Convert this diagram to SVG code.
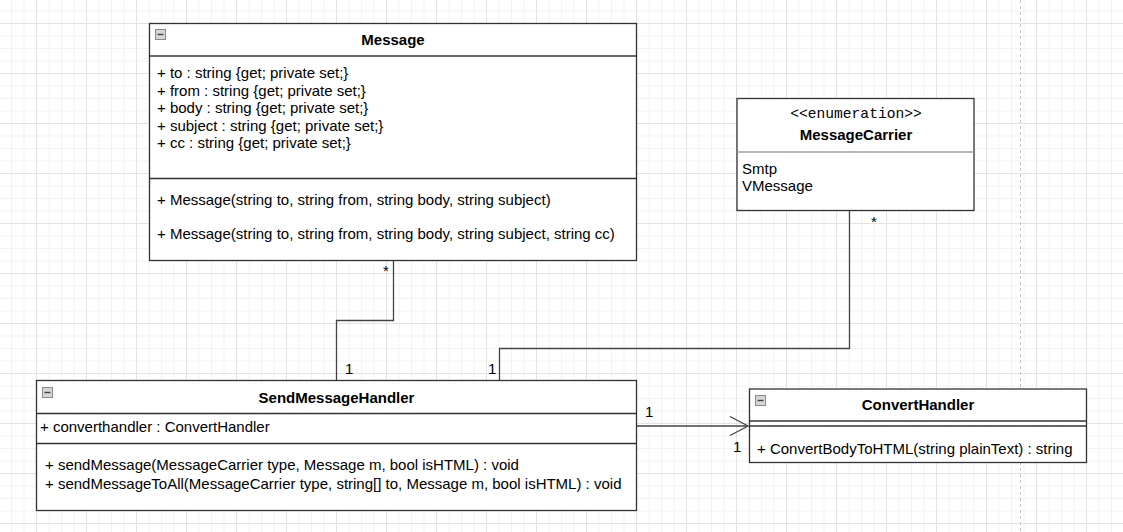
<svg xmlns="http://www.w3.org/2000/svg" width="1123" height="532" viewBox="0 0 1123 532">
<style>
.t{font-family:"Liberation Sans",Arial,sans-serif;font-size:15px;fill:#000}
.b{font-weight:bold;text-anchor:middle}
.m{font-family:"Liberation Mono","Courier New",monospace;font-size:14.6px;fill:#000;text-anchor:middle}
.box{fill:#fff;stroke:#333;stroke-width:1.3}
.sep{stroke:#333;stroke-width:1.3;fill:none}
.con{stroke:#444;stroke-width:1.3;fill:none}
.ic{fill:#d6d6d6;stroke:#8a8a8a;stroke-width:1}
.icm{stroke:#444;stroke-width:1.4}
</style>
<defs>
<pattern id="grid" patternUnits="userSpaceOnUse" x="36" y="23" width="50" height="50">
<path d="M0 13H50M0 25.5H50M0 38H50M13 0V50M25.5 0V50M38 0V50" stroke="#f3f3f3" stroke-width="1" fill="none"/>
<path d="M0 0.5H50M0.5 0V50" stroke="#e3e3e3" stroke-width="1" fill="none"/>
</pattern>
</defs>
<rect width="1123" height="532" fill="#fff"/>
<rect width="1123" height="532" fill="url(#grid)"/>
<line x1="1020.5" y1="0" x2="1020.5" y2="532" stroke="#c4c4c4" stroke-width="1" stroke-dasharray="3,3"/>

<g id="connectors">
<polyline class="con" points="393.5,261 393.5,320.5 336.5,320.5 336.5,380.5"/>
<polyline class="con" points="849.5,210.5 849.5,348.5 499.5,348.5 499.5,380.5"/>
<line class="con" x1="636.5" y1="426" x2="748" y2="426"/>
<polyline class="con" points="730,416.5 748,426 730,435.5"/>
<text class="t" x="383" y="276">*</text>
<text class="t" x="345" y="374">1</text>
<text class="t" x="488" y="374">1</text>
<text class="t" x="871" y="227">*</text>
<text class="t" x="645" y="417">1</text>
<text class="t" x="733" y="452">1</text>
</g>

<g id="Message">
<rect class="box" x="149.5" y="23.5" width="487" height="237"/>
<line class="sep" x1="149.5" y1="56" x2="636.5" y2="56"/>
<line class="sep" x1="149.5" y1="178.5" x2="636.5" y2="178.5"/>
<rect class="ic" x="155.5" y="29.5" width="10" height="10"/>
<line class="icm" x1="157.5" y1="34.5" x2="163.5" y2="34.5"/>
<text class="t b" x="393" y="45">Message</text>
<text class="t" x="157" y="78">+ to : string {get; private set;}</text>
<text class="t" x="157" y="95.5">+ from : string {get; private set;}</text>
<text class="t" x="157" y="113">+ body : string {get; private set;}</text>
<text class="t" x="157" y="130.5">+ subject : string {get; private set;}</text>
<text class="t" x="157" y="148">+ cc : string {get; private set;}</text>
<text class="t" x="157" y="205">+ Message(string to, string from, string body, string subject)</text>
<text class="t" x="157" y="239">+ Message(string to, string from, string body, string subject, string cc)</text>
</g>

<g id="MessageCarrier">
<rect class="box" x="737" y="98.5" width="237" height="112"/>
<line x1="737" y1="152" x2="974" y2="152" stroke="#a0a0a0" stroke-width="1.3"/>
<text class="m" x="856" y="117.5">&lt;&lt;enumeration&gt;&gt;</text>
<text class="t b" x="856" y="139.5">MessageCarrier</text>
<text class="t" x="742" y="173.5">Smtp</text>
<text class="t" x="742" y="191">VMessage</text>
</g>

<g id="SendMessageHandler">
<rect class="box" x="36.5" y="380.5" width="600" height="130"/>
<line class="sep" x1="36.5" y1="413.5" x2="636.5" y2="413.5"/>
<line class="sep" x1="36.5" y1="443.5" x2="636.5" y2="443.5"/>
<rect class="ic" x="42.5" y="387.5" width="10" height="10"/>
<line class="icm" x1="44.5" y1="392.5" x2="50.5" y2="392.5"/>
<text class="t b" x="336.5" y="403">SendMessageHandler</text>
<text class="t" x="40" y="432">+ converthandler : ConvertHandler</text>
<text class="t" x="45" y="470">+ sendMessage(MessageCarrier type, Message m, bool isHTML) : void</text>
<text class="t" x="45" y="488.5">+ sendMessageToAll(MessageCarrier type, string[] to, Message m, bool isHTML) : void</text>
</g>

<g id="ConvertHandler">
<rect class="box" x="749.5" y="389" width="337" height="73.5"/>
<line class="sep" x1="749.5" y1="421" x2="1086.5" y2="421"/>
<line class="sep" x1="749.5" y1="426" x2="1086.5" y2="426"/>
<rect class="ic" x="755.5" y="395.5" width="10" height="10"/>
<line class="icm" x1="757.5" y1="400.5" x2="763.5" y2="400.5"/>
<text class="t b" x="918" y="409.5">ConvertHandler</text>
<text class="t" x="757" y="453.5">+ ConvertBodyToHTML(string plainText) : string</text>
</g>
</svg>
